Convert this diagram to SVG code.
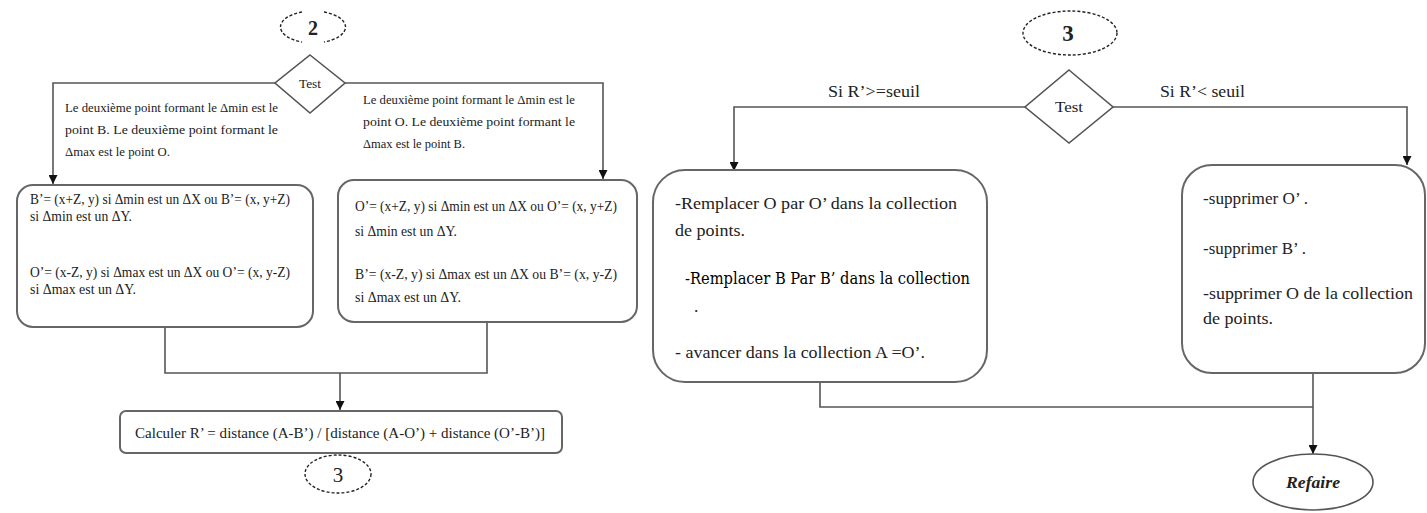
<svg xmlns="http://www.w3.org/2000/svg" width="1427" height="513" viewBox="0 0 1427 513">
<style>
text{font-family:"Liberation Serif","Times New Roman",serif;fill:#222}
.box{fill:#fff;stroke:#666;stroke-width:2}
.dia{fill:#fff;stroke:#555;stroke-width:1.6}
.con{fill:none;stroke:#555;stroke-width:1.6}
.dash{fill:none;stroke:#222;stroke-width:1.4;stroke-dasharray:3 2}
.lbl{font-size:12.5px}
.t13{font-size:14.5px}
.t16{font-size:17.5px}
</style>
<defs>
<marker id="arr" viewBox="0 0 10 10" refX="10" refY="5" markerWidth="9" markerHeight="9" markerUnits="userSpaceOnUse" orient="auto">
<path d="M0,0 L10,5 L0,10 z" fill="#111"/>
</marker>
</defs>

<g id="connectors">
<path class="con" d="M275,83 H53 V184" marker-end="url(#arr)"/>
<path class="con" d="M345,83 H603 V179" marker-end="url(#arr)"/>
<path class="con" d="M165,327 V373 H487 V322"/>
<path class="con" d="M340,373 V410" marker-end="url(#arr)"/>
<path class="con" d="M1025,107 H734 V171" marker-end="url(#arr)"/>
<path class="con" d="M1113,107 H1407 V165" marker-end="url(#arr)"/>
<path class="con" d="M820,382 V407 H1313"/>
<path class="con" d="M1313,373 V454" marker-end="url(#arr)"/>
</g>

<g id="c2">
<path class="dash" d="M302,12 A33,16 0 0 0 302,42"/>
<path class="dash" d="M324,12 A33,16 0 0 1 324,42"/>
<text x="313" y="35" font-size="20" font-weight="bold" text-anchor="middle">2</text>
</g>

<g id="test1">
<polygon class="dia" points="310,55 345,83 310,113 275,83"/>
<text x="310" y="88" font-size="13" text-anchor="middle" textLength="22" lengthAdjust="spacingAndGlyphs">Test</text>
</g>

<g id="lbl-left">
<text class="lbl" x="65" y="112" textLength="213" lengthAdjust="spacingAndGlyphs">Le deuxième point formant le Δmin est le</text>
<text class="lbl" x="65" y="134" textLength="213" lengthAdjust="spacingAndGlyphs">point B. Le deuxième point formant le</text>
<text class="lbl" x="65" y="156" textLength="105" lengthAdjust="spacingAndGlyphs">Δmax est le point O.</text>
</g>

<g id="lbl-right">
<text class="lbl" x="363" y="104" textLength="212" lengthAdjust="spacingAndGlyphs">Le deuxième point formant le Δmin est le</text>
<text class="lbl" x="363" y="126" textLength="212" lengthAdjust="spacingAndGlyphs">point O. Le deuxième point formant le</text>
<text class="lbl" x="363" y="148" textLength="102" lengthAdjust="spacingAndGlyphs">Δmax est le point B.</text>
</g>

<g id="boxB">
<rect class="box" x="17" y="185" width="296" height="142" rx="16"/>
<text class="t13" x="30" y="204" textLength="260" lengthAdjust="spacingAndGlyphs">B’= (x+Z, y) si Δmin est un ΔX ou B’= (x, y+Z)</text>
<text class="t13" x="30" y="221" textLength="102" lengthAdjust="spacingAndGlyphs">si Δmin est un ΔY.</text>
<text class="t13" x="30" y="277" textLength="260" lengthAdjust="spacingAndGlyphs">O’= (x-Z, y) si Δmax est un ΔX ou O’= (x, y-Z)</text>
<text class="t13" x="30" y="294" textLength="106" lengthAdjust="spacingAndGlyphs">si Δmax est un ΔY.</text>
</g>

<g id="boxO">
<rect class="box" x="338" y="180" width="299" height="142" rx="16"/>
<text class="t13" x="355" y="211" textLength="262" lengthAdjust="spacingAndGlyphs">O’= (x+Z, y) si Δmin est un ΔX ou O’= (x, y+Z)</text>
<text class="t13" x="355" y="236" textLength="102" lengthAdjust="spacingAndGlyphs">si Δmin est un ΔY.</text>
<text class="t13" x="355" y="279" textLength="262" lengthAdjust="spacingAndGlyphs">B’= (x-Z, y) si Δmax est un ΔX ou B’= (x, y-Z)</text>
<text class="t13" x="355" y="302" textLength="106" lengthAdjust="spacingAndGlyphs">si Δmax est un ΔY.</text>
</g>

<g id="calc">
<rect class="box" x="120" y="411" width="442" height="42" rx="6"/>
<text x="340" y="438" font-size="15.5" text-anchor="middle" textLength="410" lengthAdjust="spacingAndGlyphs">Calculer R’ = distance (A-B’) / [distance (A-O’) + distance (O’-B’)]</text>
</g>

<g id="c3a">
<ellipse class="dash" cx="338" cy="474" rx="33" ry="19"/>
<text x="338" y="482" font-size="21" text-anchor="middle">3</text>
</g>

<g id="c3b">
<ellipse class="dash" cx="1070" cy="33" rx="47" ry="22"/>
<text x="1068" y="41" font-size="23" font-weight="bold" text-anchor="middle">3</text>
</g>

<g id="test2">
<polygon class="dia" points="1069,70 1113,107 1069,143 1025,107"/>
<text x="1069" y="112" font-size="15" text-anchor="middle" textLength="28" lengthAdjust="spacingAndGlyphs">Test</text>
</g>

<g id="lbl-ge">
<text class="t16" x="828" y="97" textLength="92" lengthAdjust="spacingAndGlyphs">Si R’&gt;=seuil</text>
</g>
<g id="lbl-lt">
<text class="t16" x="1160" y="97" textLength="85" lengthAdjust="spacingAndGlyphs">Si R’&lt; seuil</text>
</g>

<g id="boxRemplacer">
<rect class="box" x="653" y="170" width="334" height="212" rx="32"/>
<text class="t16" x="675" y="209" textLength="282" lengthAdjust="spacingAndGlyphs">-Remplacer O par O’ dans la collection</text>
<text class="t16" x="675" y="236" textLength="70" lengthAdjust="spacingAndGlyphs">de points.</text>
<text x="685" y="284" font-size="17" textLength="285" lengthAdjust="spacingAndGlyphs" style="font-family:'DejaVu Serif',serif;fill:#000">-Remplacer B Par B’ dans la collection</text>
<text class="t16" x="694" y="312">.</text>
<text class="t16" x="675" y="358" textLength="250" lengthAdjust="spacingAndGlyphs">- avancer dans la collection A =O’.</text>
</g>

<g id="boxSupprimer">
<rect class="box" x="1182" y="165" width="243" height="208" rx="30"/>
<text class="t16" x="1203" y="204" textLength="105" lengthAdjust="spacingAndGlyphs">-supprimer O’ .</text>
<text class="t16" x="1203" y="254" textLength="103" lengthAdjust="spacingAndGlyphs">-supprimer B’ .</text>
<text class="t16" x="1203" y="299" textLength="210" lengthAdjust="spacingAndGlyphs">-supprimer O de la collection</text>
<text class="t16" x="1203" y="324" textLength="70" lengthAdjust="spacingAndGlyphs">de points.</text>
</g>

<g id="refaire">
<ellipse cx="1313" cy="482" rx="60" ry="28" fill="#fff" stroke="#555" stroke-width="1.6"/>
<text x="1313" y="488" font-size="17" font-weight="bold" font-style="italic" text-anchor="middle" textLength="54" lengthAdjust="spacingAndGlyphs">Refaire</text>
</g>
</svg>
